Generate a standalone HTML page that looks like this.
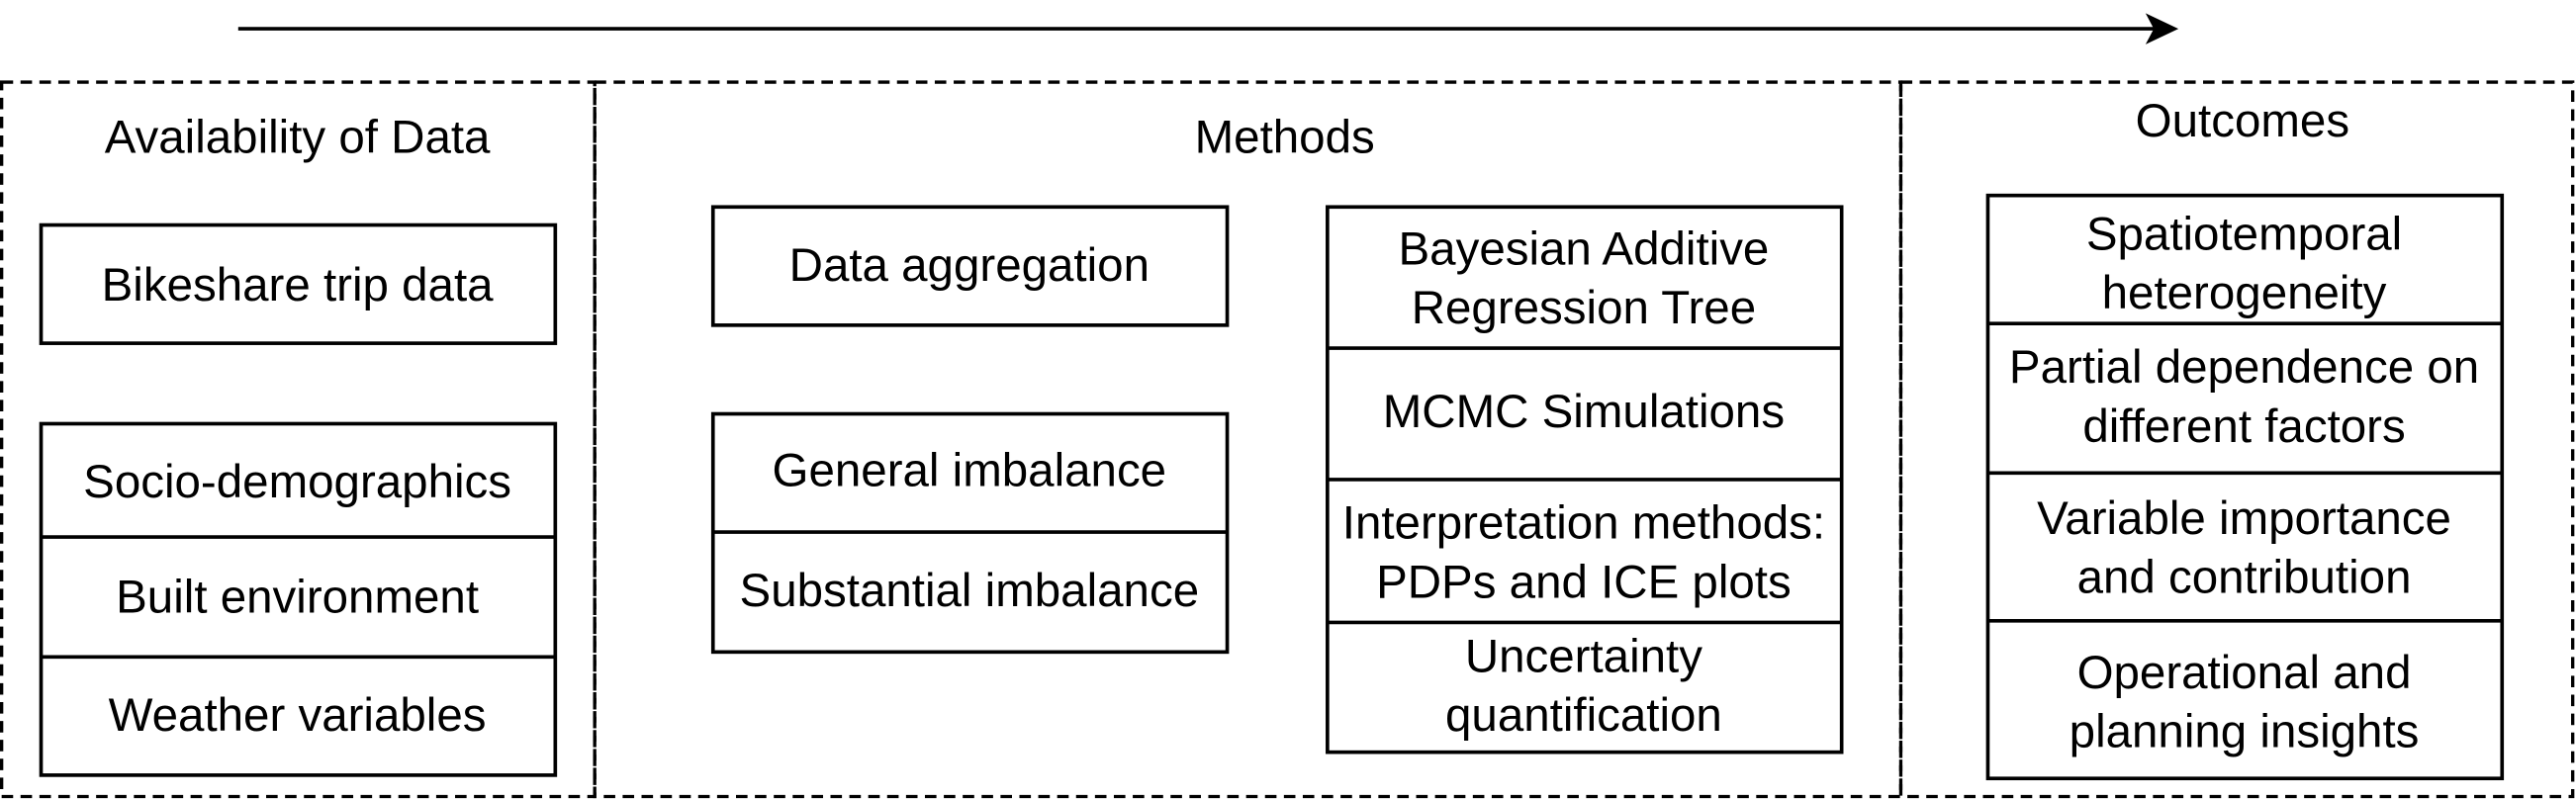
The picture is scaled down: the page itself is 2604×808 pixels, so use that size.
<!DOCTYPE html>
<html><head><style>html,body{margin:0;padding:0;background:#fff}svg{display:block}</style></head><body>
<svg width="2604" height="808" viewBox="0 0 1568 486.5" xmlns="http://www.w3.org/2000/svg" font-family="Liberation Sans, Arial, sans-serif" font-size="28.6" text-anchor="middle">
<rect width="1568" height="487" fill="#fff"/>
<line x1="145" y1="17.5" x2="1312" y2="17.5" stroke="#000" stroke-width="2.2"/>
<path d="M1326 17.5 L1306 8 L1311 17.5 L1306 27 Z" fill="#000"/>
<g fill="none" stroke="#000" stroke-width="2" stroke-dasharray="7 4.5">
<rect x="1" y="50" width="361" height="435"/>
<rect x="362" y="50" width="795" height="435"/>
<rect x="1157" y="50" width="409" height="435"/>
</g>
<g fill="none" stroke="#000" stroke-width="2.2">
<rect x="25" y="137" width="313" height="72"/>
<rect x="25" y="258" width="313" height="214"/>
<line x1="25" y1="327" x2="338" y2="327"/><line x1="25" y1="400" x2="338" y2="400"/>
<rect x="434" y="126" width="313" height="72"/>
<rect x="434" y="252" width="313" height="145"/>
<line x1="434" y1="324" x2="747" y2="324"/>
<rect x="808" y="126" width="313" height="332"/>
<line x1="808" y1="212" x2="1121" y2="212"/><line x1="808" y1="292" x2="1121" y2="292"/><line x1="808" y1="379" x2="1121" y2="379"/>
<rect x="1210" y="119" width="313" height="355"/>
<line x1="1210" y1="197" x2="1523" y2="197"/><line x1="1210" y1="288" x2="1523" y2="288"/><line x1="1210" y1="378" x2="1523" y2="378"/>
</g>
<g fill="#000">
<text x="181" y="93">Availability of Data</text>
<text x="782" y="93">Methods</text>
<text x="1365" y="83">Outcomes</text>
<text x="181" y="183">Bikeshare trip data</text>
<text x="181" y="303">Socio-demographics</text>
<text x="181" y="373">Built environment</text>
<text x="181" y="445">Weather variables</text>
<text x="590" y="171">Data aggregation</text>
<text x="590" y="296">General imbalance</text>
<text x="590" y="369">Substantial imbalance</text>
<text x="964" y="161">Bayesian Additive</text>
<text x="964" y="197">Regression Tree</text>
<text x="964" y="260">MCMC Simulations</text>
<text x="964" y="328">Interpretation methods:</text>
<text x="964" y="364">PDPs and ICE plots</text>
<text x="964" y="409">Uncertainty</text>
<text x="964" y="445">quantification</text>
<text x="1366" y="152">Spatiotemporal</text>
<text x="1366" y="188">heterogeneity</text>
<text x="1366" y="233">Partial dependence on</text>
<text x="1366" y="269">different factors</text>
<text x="1366" y="325">Variable importance</text>
<text x="1366" y="361">and contribution</text>
<text x="1366" y="419">Operational and</text>
<text x="1366" y="455">planning insights</text>
</g>
</svg>
</body></html>
